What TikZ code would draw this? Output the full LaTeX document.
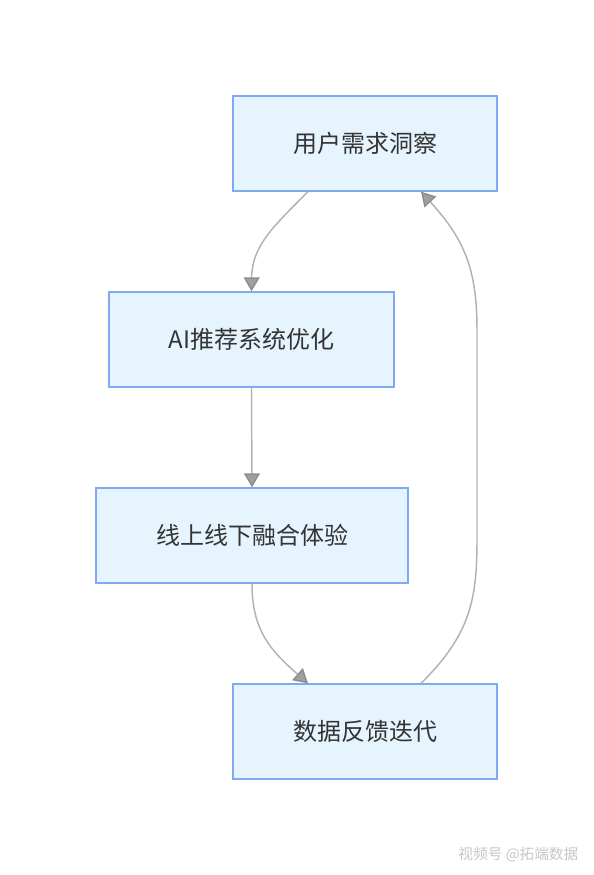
\documentclass[tikz,border=0pt]{standalone}
\usepackage{fontspec}
\setmainfont{Noto Sans CJK SC}
\usetikzlibrary{arrows.meta,positioning}
\definecolor{boxFill}{HTML}{E6F5FD}
\definecolor{boxLine}{HTML}{7FA9F2}
\definecolor{flowGray}{HTML}{B2B2B2}
\definecolor{tipGray}{HTML}{A0A0A0}
\definecolor{textDark}{HTML}{333333}

\begin{document}
\begin{tikzpicture}[x=0.75pt, y=-0.75pt,
  box/.style={draw=boxLine, fill=boxFill, line width=1pt, minimum height=71.25pt,
    text=textDark, font=\fontsize{18}{21}\selectfont, inner sep=0pt},
  flow/.style={draw=flowGray, line width=1.1pt,
    -{Triangle[width=12pt, length=10.5pt, color=flowGray!80!black, fill=tipGray]}}]
\useasboundingbox (0,0) rectangle (593,875);
\node[box, minimum width=198pt] (insight) at (365,143.5) {用户需求洞察};
\node[box, minimum width=213.75pt] (aiopt) at (251.5,339.5) {AI推荐系统优化};
\node[box, minimum width=234pt] (fusion) at (252,535.5) {线上线下融合体验};
\node[box, minimum width=198pt] (feedback) at (365,731.5) {数据反馈迭代};
% connectors
\draw[flow] ([xshift=-42.75pt]insight.south) .. controls (275,225) and (252,245) .. (aiopt.north);
\draw[flow] (aiopt.south) -- (fusion.north);
\draw[flow] (fusion.south) .. controls (252,630) and (270,650) .. ([xshift=-42.75pt]feedback.north);
\draw[flow] ([xshift=42pt]feedback.north) .. controls (470,635) and (477,600) .. (477,540)
  -- (477,330) .. controls (477,270) and (465,240) .. ([xshift=42pt]insight.south);
% watermark
\node[text=gray!45, font=\fontsize{11}{13}\selectfont, anchor=east] (mark) at (583,855) {视频号 @拓端数据};
\end{tikzpicture}
\end{document}
